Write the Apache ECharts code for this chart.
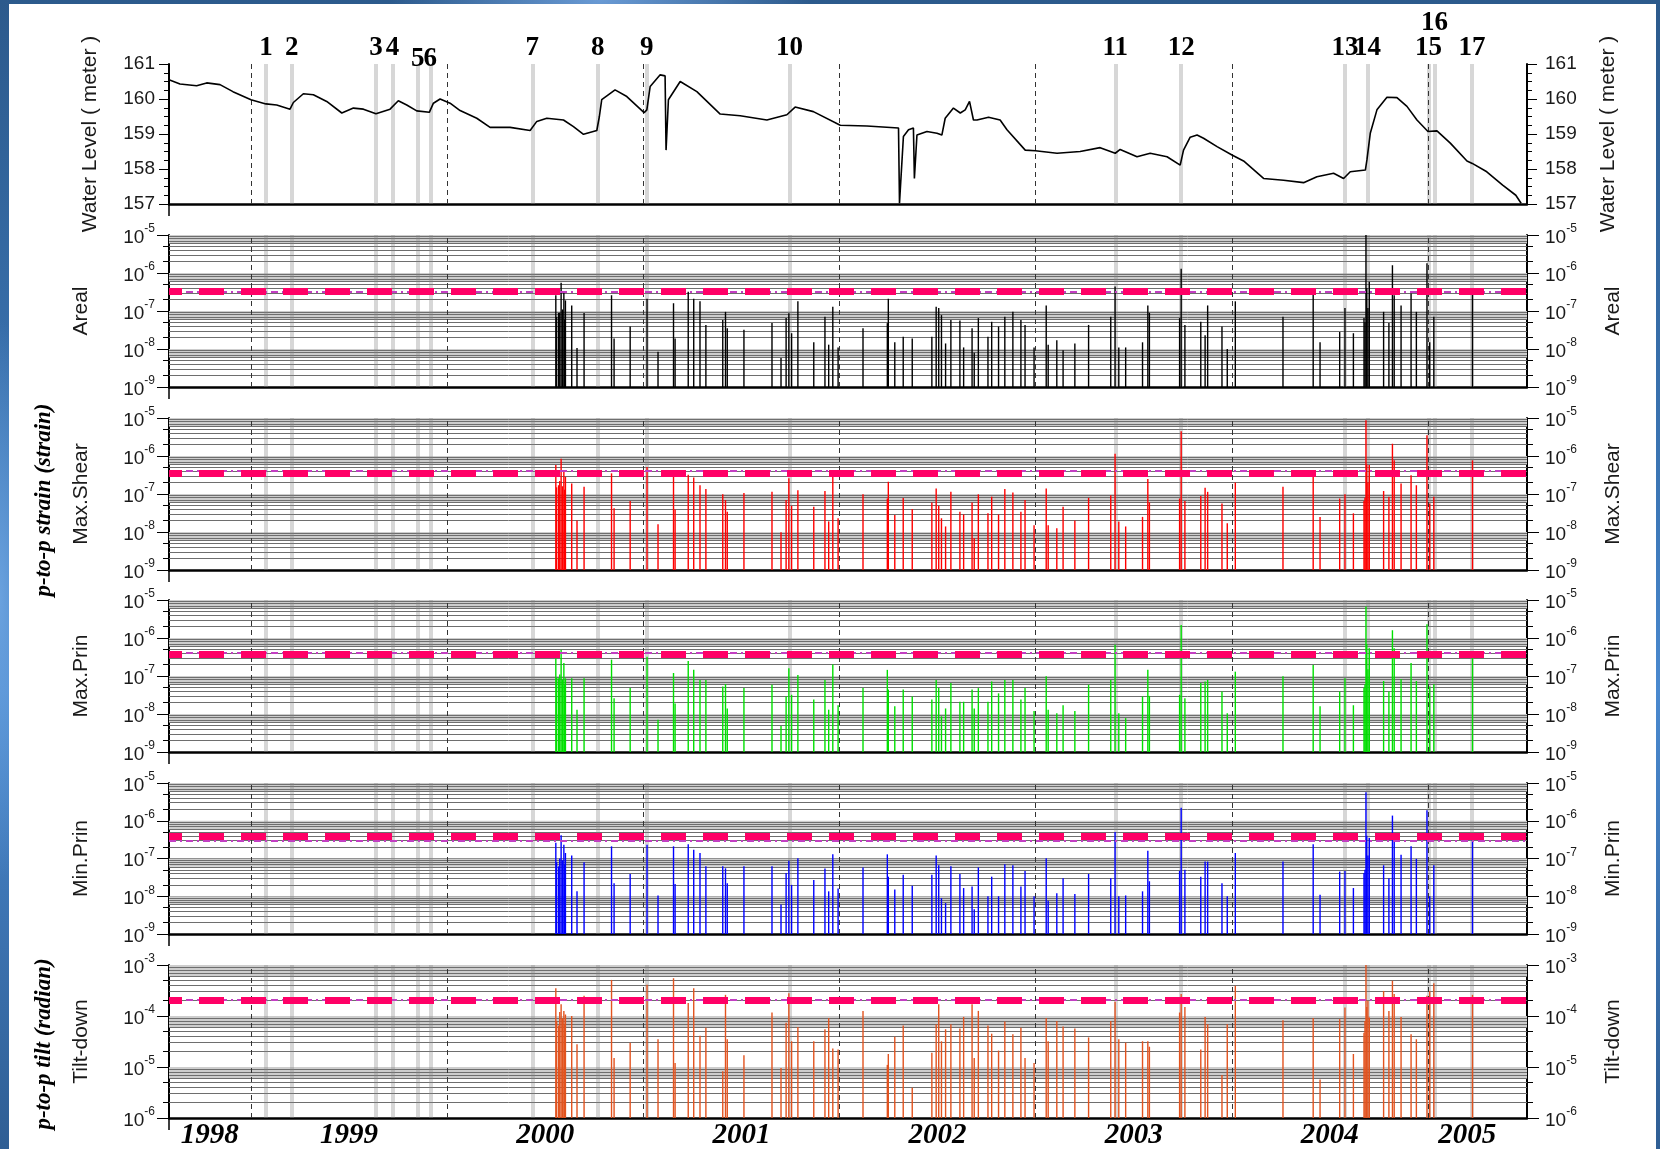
<!DOCTYPE html>
<html><head><meta charset="utf-8">
<script src="https://cdn.jsdelivr.net/npm/echarts@6/dist/echarts.min.js"></script>
<style>
html,body{margin:0;padding:0;width:1660px;height:1149px;overflow:hidden;
background:radial-gradient(ellipse 300px 120px at 600px 0px, rgba(120,170,230,0.8), rgba(0,0,0,0) 70%),
radial-gradient(ellipse 60px 400px at 0px 600px, rgba(110,165,225,0.9), rgba(0,0,0,0) 70%),
linear-gradient(180deg,#2c5a8c 0%,#3d78b8 45%,#4a89cf 60%,#2f5e94 100%);}
#paper{position:absolute;left:9px;top:4px;width:1647px;height:1145px;background:#fff;}
#c{position:absolute;left:0;top:0;width:1660px;height:1149px;}
</style></head><body><div id="paper"></div><div id="c"></div>
<script>
// ---------- axis / layout constants ----------
const X_MIN = 1998.582, X_MAX = 2005.505;
const YEAR_LINES = [1999, 2000, 2001, 2002, 2003, 2004, 2005];
const YEAR_LABEL_POS = [1998.79, 1999.5, 2000.5, 2001.5, 2002.5, 2003.5, 2004.5, 2005.2];
const EVENT_NAMES = ['1','2','3','4','5','6','7','8','9','10','11','12','13','14','15','16','17'];
const EVENT_YEARS = [1999.076,1999.208,1999.637,1999.721,1999.850,1999.914,2000.434,2000.768,2001.018,2001.745,2003.406,2003.742,2004.577,2004.692,2005.003,2005.034,2005.224];

// ---------- water level ----------
const WL_T = [
1998.582,1998.638,1998.723,1998.774,1998.842,1998.908,1999.000,1999.076,1999.131,1999.199,
1999.216,1999.267,1999.318,1999.386,1999.463,1999.522,1999.573,1999.637,1999.709,1999.751,
1999.794,1999.845,1999.909,1999.930,1999.964,2000.015,2000.066,2000.151,2000.219,2000.321,
2000.423,2000.457,2000.508,2000.593,2000.644,2000.695,2000.763,2000.776,2000.788,2000.856,
2000.916,2001.004,2001.018,2001.035,2001.086,2001.111,2001.116,2001.128,2001.188,2001.273,
2001.392,2001.494,2001.630,2001.732,2001.774,2001.867,2002.004,2002.140,2002.301,2002.306,
2002.326,2002.352,2002.377,2002.382,2002.395,2002.446,2002.497,2002.522,2002.539,2002.581,
2002.616,2002.641,2002.663,2002.683,2002.701,2002.760,2002.819,2002.854,2002.947,2002.999,
2003.109,2003.227,2003.329,2003.406,2003.431,2003.517,2003.584,2003.670,2003.737,2003.754,
2003.788,2003.823,2003.856,2003.925,2004.001,2004.060,2004.162,2004.264,2004.366,2004.434,
2004.519,2004.570,2004.604,2004.681,2004.689,2004.706,2004.740,2004.791,2004.842,2004.893,
2004.944,2005.000,2005.046,2005.114,2005.199,2005.226,2005.300,2005.381,2005.448,2005.475];
const WL_V = [
160.55,160.43,160.38,160.46,160.41,160.21,159.98,159.86,159.83,159.71,
159.90,160.15,160.12,159.93,159.60,159.74,159.71,159.58,159.71,159.95,
159.83,159.66,159.62,159.88,160.00,159.88,159.67,159.45,159.19,159.19,
159.10,159.36,159.45,159.40,159.21,158.99,159.10,159.50,159.98,160.26,
160.07,159.61,159.69,160.36,160.69,160.66,158.54,159.98,160.50,160.21,
159.57,159.52,159.40,159.55,159.77,159.64,159.25,159.23,159.17,157.02,
158.93,159.12,159.17,157.73,158.97,159.07,159.02,158.97,159.45,159.74,
159.60,159.69,159.93,159.40,159.40,159.48,159.40,159.12,158.54,158.52,
158.45,158.50,158.61,158.45,158.56,158.35,158.45,158.35,158.11,158.54,
158.91,158.97,158.88,158.64,158.40,158.23,157.73,157.68,157.61,157.78,
157.88,157.73,157.92,157.97,158.26,159.02,159.69,160.05,160.04,159.79,
159.40,159.07,159.09,158.74,158.23,158.16,157.92,157.54,157.25,157.02];

// ---------- p-to-p spikes ----------
const SPIKE_T = [
2000.554,2000.558,2000.568,2000.574,2000.581,2000.588,2000.595,2000.599,2000.603,2000.635,
2000.662,2000.698,2000.838,2000.851,2000.933,2001.019,2001.075,2001.154,2001.162,2001.229,
2001.257,2001.289,2001.319,2001.405,2001.419,2001.428,2001.513,2001.656,2001.702,2001.728,
2001.742,2001.756,2001.788,2001.869,2001.926,2001.945,2001.966,2001.993,2002.120,2002.244,
2002.249,2002.282,2002.325,2002.371,2002.471,2002.493,2002.506,2002.520,2002.541,2002.568,
2002.614,2002.633,2002.676,2002.687,2002.708,2002.757,2002.776,2002.811,2002.843,2002.884,
2002.925,2002.946,2002.992,2003.054,2003.064,2003.108,2003.140,2003.200,2003.270,2003.383,
2003.405,2003.424,2003.459,2003.545,2003.572,2003.580,2003.734,2003.742,2003.761,2003.842,
2003.864,2003.877,2003.950,2003.977,2004.018,2004.261,2004.415,2004.450,2004.550,2004.577,
2004.620,2004.674,2004.679,2004.684,2004.688,2004.694,2004.701,2004.774,2004.801,2004.819,
2004.828,2004.863,2004.914,2004.941,2004.995,2005.009,2005.030,2005.227];
const AREAL = [
2.6e-7,7e-8,8.9e-8,9e-8,5.5e-7,1.1e-7,3.2e-7,6e-8,1.9e-7,1.4e-7,
1.07e-8,8.9e-8,2.6e-7,1.9e-8,3.9e-8,2.1e-7,8.5e-9,1.6e-7,1.9e-8,3.2e-7,
2.1e-7,1.8e-7,4.3e-8,5.8e-8,9.5e-8,3.5e-8,3.2e-8,4.8e-8,5.8e-9,6.5e-8,
8.7e-8,2.6e-8,1.8e-7,1.5e-8,7.1e-8,1.3e-8,1.3e-7,1.1e-8,3.5e-8,4.8e-8,
2.1e-7,1.5e-8,2.1e-8,1.9e-8,2.1e-8,1.3e-7,1.2e-7,7.8e-8,1.4e-8,5.8e-8,
5.6e-8,1.1e-8,3.5e-8,8e-9,6.5e-8,2.1e-8,5.2e-8,3.9e-8,7.1e-8,9.5e-8,
5.8e-8,4.3e-8,1.1e-8,1.4e-7,1.3e-8,1.7e-8,9.3e-9,1.4e-8,4.3e-8,7.1e-8,
4.4e-7,1.1e-8,1.1e-8,1.5e-8,1.4e-7,8.9e-8,6.5e-8,1.3e-6,4.3e-8,5.2e-8,
2.3e-8,1.4e-7,3.9e-8,1e-8,1.8e-7,7.1e-8,2.9e-7,1.5e-8,2.8e-8,1.2e-7,
2.6e-8,6.5e-8,5e-8,1e-5,4e-7,1.2e-7,5.9e-7,9.5e-8,4.8e-8,1.6e-6,
2.6e-7,1.4e-7,2.9e-7,9.5e-8,1.8e-6,1.5e-8,7.1e-8,2.9e-7];
const SHEAR = [
5.8e-7,1.5e-7,1.7e-7,2.2e-7,8.5e-7,1.6e-7,3.8e-7,1.3e-7,2.8e-7,1.9e-7,
2e-8,1.55e-7,3.5e-7,4.2e-8,6.5e-8,5.1e-7,1.6e-8,2.9e-7,3.9e-8,3.2e-7,
2.7e-7,1.7e-7,1.35e-7,9.8e-8,6.9e-8,3.4e-8,1.07e-7,1.14e-7,9.8e-9,6.9e-8,
2.6e-7,4.9e-8,1.26e-7,4.6e-8,1.2e-7,1.9e-8,2.8e-7,2.3e-8,9.8e-8,7.6e-8,
2.1e-7,2.8e-8,7.9e-8,4e-8,6e-8,1.4e-7,4.9e-8,2.3e-8,1.4e-8,1.14e-7,
3.4e-8,2.9e-8,6e-8,6.8e-9,9.8e-8,3.1e-8,8.5e-8,2.9e-8,1.35e-7,1.1e-7,
3.4e-8,6.9e-8,1.5e-8,1.4e-7,1.5e-8,1.25e-8,4.6e-8,2e-8,7.9e-8,9.3e-8,
1.15e-6,1.9e-8,1.4e-8,2.5e-8,2.5e-7,6e-8,7.6e-8,4.5e-6,6.5e-8,8.9e-8,
1.45e-7,1.14e-7,5.6e-8,1.7e-8,2e-7,1.55e-7,3.1e-7,2.5e-8,7.6e-8,9.8e-8,
3.1e-8,6.5e-8,8e-8,8.7e-6,6e-7,2e-7,5.8e-7,1.2e-7,8.5e-8,2.1e-6,
7.7e-7,1.9e-7,3.1e-7,1.7e-7,3.5e-6,5.6e-8,8.5e-8,7.7e-7];
const MAXP = [
2.9e-7,9e-8,8.7e-8,1.1e-7,4.9e-7,8e-8,2.2e-7,6e-8,8.7e-8,8.7e-8,
1.3e-8,8.7e-8,2.7e-7,2.6e-8,4.8e-8,3.2e-7,7.1e-9,1.2e-7,1.9e-8,2.5e-7,
1.45e-7,7.9e-8,7.9e-8,5.3e-8,6.1e-8,1.4e-8,4.8e-8,5.9e-8,4.8e-9,2.9e-8,
1.6e-7,3.2e-8,1.07e-7,2.4e-8,7.9e-8,1.3e-8,2e-7,1.7e-8,4.8e-8,1.45e-7,
4.4e-8,1.6e-8,4.4e-8,2.9e-8,2.4e-8,7.9e-8,4.8e-8,8.7e-9,1.4e-8,6.5e-8,
2.1e-8,2.1e-8,4.4e-8,1.4e-8,4.8e-8,2.1e-8,7.2e-8,3.5e-8,7.9e-8,7.9e-8,
2.4e-8,4.8e-8,1.2e-8,9.8e-8,1.3e-8,1.05e-8,1.7e-8,1.2e-8,5.9e-8,7.9e-8,
6.6e-7,1.05e-8,7.8e-9,2.9e-8,1.45e-7,3e-8,3.2e-8,2.2e-6,2.6e-8,6.5e-8,
7.2e-8,7.9e-8,3.9e-8,1.05e-8,1.3e-7,9.8e-8,1.95e-7,1.6e-8,3.9e-8,8.7e-8,
1.7e-8,4.8e-8,6e-8,6.7e-6,7e-7,1.5e-7,5.4e-7,7.4e-8,3.9e-8,1.6e-6,
5.4e-7,8.3e-8,2.2e-7,7.4e-8,2.3e-6,5.3e-8,6.1e-8,3.1e-7];
const MINP = [
2.6e-7,8e-8,6.2e-8,1e-7,4.1e-7,9e-8,2.3e-7,7e-8,1.4e-7,1.2e-7,
1.35e-8,7.9e-8,2.1e-7,2.2e-8,3.9e-8,2.3e-7,1.05e-8,2.1e-7,2.1e-8,2.4e-7,
1.7e-7,1.4e-7,6.2e-8,6.2e-8,5.5e-8,2.2e-8,6.2e-8,6.2e-8,6e-9,4.1e-8,
8.7e-8,2e-8,1.02e-7,2.7e-8,5.4e-8,1.35e-8,1.29e-7,1.6e-8,5.8e-8,1.29e-7,
3.3e-8,1.5e-8,3.7e-8,1.9e-8,3.7e-8,1.2e-7,6.6e-8,8.9e-9,6.6e-9,6.2e-8,
3.9e-8,1.65e-8,1.8e-8,4.5e-9,5.8e-8,1e-8,3.3e-8,1e-8,7e-8,6.6e-8,
1.8e-8,4.7e-8,1e-8,1.02e-7,7.6e-9,1.2e-8,3e-8,1.15e-8,3.9e-8,3e-8,
5e-7,1e-8,1.05e-8,1.35e-8,1.6e-7,2.5e-8,4.7e-8,2.2e-6,5e-8,3.3e-8,
8.3e-8,8.3e-8,2.2e-8,1e-8,1.4e-7,8.3e-8,2.4e-7,1.1e-8,4.5e-8,4.7e-8,
1.65e-8,4.1e-8,5e-8,5.7e-6,4e-7,1.2e-7,3.5e-7,6.6e-8,3e-8,1.37e-6,
2.8e-7,1.26e-7,2.1e-7,9.8e-8,1.9e-6,1e-8,6.6e-8,3.3e-7];
const TILT = [
3.5e-4,8e-5,6.5e-5,1.2e-4,1.7e-4,9e-5,1.26e-4,7e-5,1.07e-4,1e-4,
2.8e-5,2.5e-4,5.1e-4,1.5e-5,3e-5,4.1e-4,3.5e-5,5.5e-4,1.2e-5,1.8e-4,
3.5e-4,4.1e-5,5.9e-5,8.3e-6,2.6e-4,3.5e-5,1.7e-5,1.17e-4,9.6e-6,7.4e-5,
2.8e-4,3.2e-5,6.1e-5,3.2e-5,5.5e-5,9.1e-5,2.3e-5,2.2e-5,1.26e-4,1.1e-5,
1.8e-5,3.9e-5,6.5e-5,3.9e-6,1.9e-5,6.9e-5,1.7e-4,3.2e-5,5.5e-5,6.9e-5,
5.7e-5,9.6e-5,1.7e-4,1.5e-5,1.26e-4,6.5e-5,4.5e-5,2.1e-5,7.8e-5,4.4e-5,
5.9e-5,1.5e-5,1.2e-5,9.1e-5,3.2e-5,8e-5,6.2e-5,5.7e-5,3.8e-5,8e-5,
1.9e-4,3.5e-5,3e-5,3.2e-5,3.2e-5,2.5e-5,1.17e-4,2.7e-4,1.5e-4,2.2e-5,
9.6e-5,6.9e-5,7e-6,6.9e-5,3.9e-4,8.3e-5,9.1e-5,5.7e-6,8.7e-5,1.46e-4,
1.8e-5,4.7e-5,8e-5,1e-3,1.5e-4,2e-4,9.3e-5,3.1e-4,1.26e-4,4.9e-4,
2.7e-4,9.6e-5,4.4e-5,3.5e-5,2.5e-4,3.1e-4,4.4e-4,2.6e-4];

// thresholds per panel (Areal, Max.Shear, Max.Prin, Min.Prin, Tilt-down)
const THR_PINK   = [3.4e-7, 3.6e-7, 3.8e-7, 4.0e-7, 2.0e-4];
const THR_PURPLE = [3.2e-7, 4.2e-7, 4.2e-7, 2.9e-7, 2.1e-4];

const PANEL_NAMES  = ['Areal', 'Max.Shear', 'Max.Prin', 'Min.Prin', 'Tilt-down'];
const PANEL_DATA   = [AREAL, SHEAR, MAXP, MINP, TILT];
const PANEL_COLORS = ['#000000', '#ff0000', '#00e000', '#0000ff', '#e2531f'];
const PANEL_EXP    = [[-9,-5],[-9,-5],[-9,-5],[-9,-5],[-6,-3]];

// ---------- layout ----------
const LEFT = 169, RIGHT = 133;
const GRID_TOPS = [64, 235, 418, 600, 783, 965];
const GRID_HEIGHTS = [140, 152, 152, 152, 151, 153];
const FONT = 'Liberation Sans';

function pw(e){ return Number('1e' + e); }
function decadeVals(lo, hi){ const a=[]; for(let e=lo;e<=hi;e++) a.push(pw(e)); return a; }
function minorVals(lo, hi, ds){ const a=[]; for(let e=lo;e<hi;e++) for(const d of ds) a.push(Number(d + 'e' + e)); return a; }

const grid = GRID_TOPS.map((t,i)=>({left:LEFT, right:RIGHT, top:t, height:GRID_HEIGHTS[i], containLabel:false, outerBoundsMode:'none'}));

const xAxis = GRID_TOPS.map((t,i)=>({
  type:'value', gridIndex:i, min:X_MIN, max:X_MAX,
  axisLine:{show:true, onZero:false, lineStyle:{color:'#000', width:2.5}},
  axisTick:{show:true, customValues:[X_MIN], length:12, lineStyle:{color:'#000', width:1.5}},
  splitLine:{show:false},
  axisLabel: i === 5 ? {show:true, customValues:YEAR_LABEL_POS, formatter:v=>String(Math.floor(v)),
      fontFamily:'Liberation Serif', fontStyle:'italic', fontWeight:'bold', fontSize:29, color:'#000', margin:3}
    : {show:false}
}));

const yAxis = [];
const labelStyle = {fontFamily:FONT, fontSize:19, color:'#1a1a1a'};
const nameStyle = {fontFamily:FONT, fontSize:21, color:'#1a1a1a'};
yAxis.push({type:'value', gridIndex:0, position:'left', min:157, max:161, interval:1,
  axisLine:{show:true, onZero:false, lineStyle:{color:'#000', width:2}},
  axisTick:{show:true, length:10, lineStyle:{color:'#000'}},
  minorTick:{show:true, splitNumber:4, length:5, lineStyle:{color:'#000'}},
  splitLine:{show:false},
  axisLabel:Object.assign({margin:14}, labelStyle),
  name:'Water Level ( meter )', nameLocation:'middle', nameRotate:90, nameGap:68, nameTextStyle:nameStyle});
yAxis.push({type:'value', gridIndex:0, position:'right', min:157, max:161, interval:1,
  axisLine:{show:true, onZero:false, lineStyle:{color:'#000', width:2}},
  axisTick:{show:true, length:10, lineStyle:{color:'#000'}},
  minorTick:{show:true, splitNumber:4, length:5, lineStyle:{color:'#000'}},
  splitLine:{show:false},
  axisLabel:Object.assign({margin:18}, labelStyle),
  name:'Water Level ( meter )', nameLocation:'middle', nameRotate:90, nameGap:71, nameTextStyle:nameStyle});

const richLabel = {
  b:{fontFamily:FONT, fontSize:19, color:'#1a1a1a', verticalAlign:'bottom', lineHeight:24},
  s:{fontFamily:FONT, fontSize:12, color:'#1a1a1a', verticalAlign:'top', lineHeight:24}
};
const expFmt = v => '{b|10}{s|' + Math.round(Math.log10(v)) + '}';
const mainY = [];
PANEL_NAMES.forEach((nm, k)=>{
  const gi = k + 1, lo = PANEL_EXP[k][0], hi = PANEL_EXP[k][1];
  const dec = decadeVals(lo, hi), mt = minorVals(lo, hi, [2,5]);
  ['left','right'].forEach(pos=>{
    const idx = yAxis.length;
    if (pos === 'left') mainY.push(idx);
    yAxis.push({type:'log', logBase:10, gridIndex:gi, position:pos, min:pw(lo), max:pw(hi),
      axisLine:{show:true, onZero:false, lineStyle:{color:'#000', width:2}},
      axisTick:{show:true, customValues:dec, length:12, lineStyle:{color:'#000'}},
      axisLabel:{show:true, customValues:dec, formatter:expFmt, rich:richLabel, margin: pos==='left'?14:18},
      splitLine:{show:pos==='left', lineStyle:{color:'#555', width:1.2}},
      name:nm, nameLocation:'middle', nameRotate:90, nameGap: pos==='left'?77:76, nameTextStyle:nameStyle});
    yAxis.push({type:'log', logBase:10, gridIndex:gi, position:pos, min:pw(lo), max:pw(hi),
      axisLine:{show:false}, axisLabel:{show:false}, splitLine:{show:false},
      axisTick:{show:true, customValues:mt, length:6, lineStyle:{color:'#000'}}});
  });
});

const series = [];
function host(gi, yi, yv, extra){
  return Object.assign({type:'line', xAxisIndex:gi, yAxisIndex:yi, data:[[X_MIN, yv]],
    symbol:'none', showSymbol:false, lineStyle:{opacity:0}, silent:true, animation:false}, extra);
}
const noSym = ['none','none'];

series.push({type:'line', name:'Water level', xAxisIndex:0, yAxisIndex:0, z:4,
  data: WL_T.map((t,k)=>[t, WL_V[k]]), symbol:'none', showSymbol:false, animation:false,
  lineStyle:{color:'#000', width:1.6}});

function eventItems(withLabels){
  return EVENT_YEARS.map((x,k)=>{
    const nm = EVENT_NAMES[k];
    let dist = 2;
    if (nm === '5' || nm === '6') dist = -9;
    if (nm === '16') dist = 27;
    const it = {xAxis:x, name:nm};
    if (withLabels) it.label = {show:true, distance:dist};
    return it;
  });
}

for (let gi = 0; gi < 6; gi++) {
  const yi = gi === 0 ? 0 : mainY[gi-1];
  const yv = gi === 0 ? 157 : pw(PANEL_EXP[gi-1][0]);
  if (gi > 0) {
    const lo = PANEL_EXP[gi-1][0], hi = PANEL_EXP[gi-1][1];
    const areas = [];
    for (let e = lo; e < hi; e++) areas.push([{yAxis:Number('6e' + e)}, {yAxis:pw(e+1)}]);
    series.push(host(gi, yi, yv, {
      markArea:{silent:true, z:1, itemStyle:{color:'#cdcdcd'}, label:{show:false}, data:areas},
      markLine:{silent:true, z:1, symbol:noSym, animation:false, precision:20, label:{show:false},
        lineStyle:{color:'#6e6e6e', width:1, type:'solid'},
        data: minorVals(lo, hi, [2,3,4,5,6,7,8,9]).map(v=>({yAxis:v}))}
    }));
  }
  series.push(host(gi, yi, yv, {
    markLine:{silent:true, z:2, symbol:noSym, animation:false, precision:20,
      lineStyle:{color:'rgba(130,130,130,0.32)', width:4, type:'solid'},
      label:{show:gi===0, position:'end', formatter:p=>p.name, color:'#000',
        fontFamily:'Liberation Serif', fontWeight:'bold', fontSize:27},
      data:eventItems(gi===0)}
  }));
  series.push(host(gi, yi, yv, {
    markLine:{silent:true, z:3, symbol:noSym, animation:false, precision:20, label:{show:false},
      lineStyle:{color:'#333', width:1, type:[5,4]},
      data:YEAR_LINES.map(x=>({xAxis:x}))}
  }));
}

PANEL_NAMES.forEach((nm,k)=>{
  const gi = k + 1, yi = mainY[k], ymin = pw(PANEL_EXP[k][0]);
  const vals = PANEL_DATA[k], color = PANEL_COLORS[k];
  const n = Math.min(SPIKE_T.length, vals.length);
  const data = [];
  for (let i = 0; i < n; i++) data.push([SPIKE_T[i], vals[i]]);
  series.push({type:'custom', name:nm, xAxisIndex:gi, yAxisIndex:yi, z:4, silent:true, animation:false,
    data, encode:{x:0, y:1},
    renderItem:(params, api)=>{
      const top = api.coord([api.value(0), api.value(1)]);
      const base = api.coord([api.value(0), ymin]);
      return {type:'line', shape:{x1:top[0], y1:base[1], x2:top[0], y2:top[1]},
        style:{stroke:color, lineWidth:1.4}};
    }});
  series.push(host(gi, yi, ymin, {
    markLine:{silent:true, z:6, symbol:noSym, animation:false, precision:20, label:{show:false},
      data:[
        {yAxis:THR_PURPLE[k], lineStyle:{color:'#c23fc2', width:2, type:[7,4,2,4]}},
        {yAxis:THR_PINK[k], lineStyle:{color:'#ff0066', width:7, type:[25,17], dashOffset:12}}
      ]}
  }));
});

const graphic = [
  {type:'text', x:44, y:500, rotation:Math.PI/2, z:10,
   style:{text:'p-to-p strain (strain)', font:'italic bold 23px "Liberation Serif"', fill:'#000', align:'center', verticalAlign:'middle'}},
  {type:'text', x:44, y:1044, rotation:Math.PI/2, z:10,
   style:{text:'p-to-p tilt (radian)', font:'italic bold 23px "Liberation Serif"', fill:'#000', align:'center', verticalAlign:'middle'}}
];

const chart = echarts.init(document.getElementById('c'), null, {renderer:'canvas'});
chart.setOption({animation:false, backgroundColor:'transparent', grid, xAxis, yAxis, series, graphic});
</script></body></html>
